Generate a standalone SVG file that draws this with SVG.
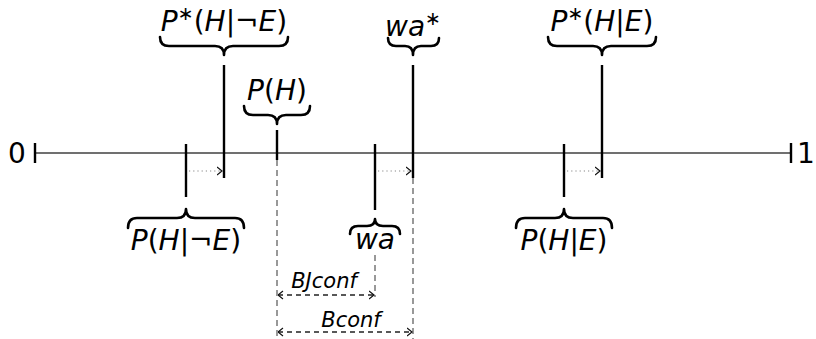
<svg xmlns="http://www.w3.org/2000/svg" width="816" height="339" viewBox="0 0 816 339">
<defs>
<style>
text{font-family:"DejaVu Sans","Liberation Sans",sans-serif;fill:#000}
.lbl{font-size:28px;text-anchor:middle}
.it{font-style:italic}
.sm{font-size:21px;text-anchor:middle;font-style:italic}
.num{font-size:28px;text-anchor:middle}
.tick{stroke:#000;stroke-width:2.4}
.brace{fill:none;stroke:#000;stroke-width:2.6;stroke-linecap:round;stroke-linejoin:round}
.axis{stroke:#707070;stroke-width:2.2}
.dash{stroke:#777;stroke-width:1.5;stroke-dasharray:6,4;fill:none}
.dashh{stroke:#222;stroke-width:1.3;stroke-dasharray:5,4;fill:none}
.dot{stroke:#888;stroke-width:1.2;stroke-dasharray:1.2,3;fill:none}
</style>
<marker id="ah" viewBox="0 0 6 10" refX="5.5" refY="5" markerWidth="6" markerHeight="10" markerUnits="userSpaceOnUse" orient="auto-start-reverse">
<path d="M0.5,1 L5.5,5 L0.5,9" fill="none" stroke="#111" stroke-width="1.2"/>
</marker>
</defs>

<g id="axis">
<line class="axis" x1="35" y1="153" x2="791" y2="153"/>
<line class="tick" x1="35" y1="143" x2="35" y2="163"/>
<line class="tick" x1="791" y1="143" x2="791" y2="163"/>
<text class="num" x="17" y="163">0</text>
<text class="num" x="806" y="163">1</text>
</g>

<g id="connectors">
<line class="dot" x1="189" y1="171" x2="222" y2="171" marker-end="url(#ah)"/>
<line class="dot" x1="378" y1="171" x2="411" y2="171" marker-end="url(#ah)"/>
<line class="dot" x1="567" y1="171" x2="600" y2="171" marker-end="url(#ah)"/>
<line class="dash" x1="277" y1="160" x2="277" y2="339"/>
<line class="dash" x1="413" y1="178" x2="413" y2="339"/>
<line class="dash" x1="375" y1="255" x2="375" y2="297"/>
<line class="dashh" x1="278" y1="295" x2="374" y2="295" marker-start="url(#ah)" marker-end="url(#ah)"/>
<line class="dashh" x1="278" y1="332" x2="412" y2="332" marker-start="url(#ah)" marker-end="url(#ah)"/>
</g>

<g id="P_H_notE">
<line class="tick" x1="186" y1="144" x2="186" y2="197"/>
<path class="brace" d="M128,228 Q128,218 137,218 L177,218 Q186,218 186,209 Q186,218 195,218 L235,218 Q244,218 244,228"/>
<text class="lbl" x="186" y="250"><tspan class="it">P</tspan>(<tspan class="it">H</tspan>|¬<tspan class="it">E</tspan>)</text>
</g>

<g id="Pstar_H_notE">
<line class="tick" x1="224" y1="65" x2="224" y2="178"/>
<path class="brace" d="M160,37 Q160,46 169,46 L215,46 Q224,46 224,55 Q224,46 233,46 L279,46 Q288,46 288,37"/>
<text class="lbl" x="224" y="31"><tspan class="it">P</tspan><tspan font-size="19" dy="-11">∗</tspan><tspan dy="11">(</tspan><tspan class="it">H</tspan>|¬<tspan class="it">E</tspan>)</text>
</g>

<g id="P_H">
<line class="tick" x1="277" y1="130" x2="277" y2="160"/>
<path class="brace" d="M244,106 Q244,115 253,115 L268,115 Q277,115 277,124 Q277,115 286,115 L301,115 Q310,115 310,106"/>
<text class="lbl" x="277" y="100"><tspan class="it">P</tspan>(<tspan class="it">H</tspan>)</text>
</g>

<g id="wa">
<line class="tick" x1="375" y1="144" x2="375" y2="210"/>
<path class="brace" d="M350,234 Q350,226 358,226 L367,226 Q375,226 375,219 Q375,226 383,226 L392,226 Q400,226 400,234"/>
<text class="lbl it" x="375" y="249">wa</text>
</g>

<g id="wa_star">
<line class="tick" x1="413" y1="65" x2="413" y2="178"/>
<path class="brace" d="M388,38 Q388,46 396,46 L405,46 Q413,46 413,55 Q413,46 421,46 L431,46 Q439,46 439,38"/>
<text class="lbl" x="413" y="36"><tspan class="it">wa</tspan><tspan font-size="19" dy="-11">∗</tspan></text>
</g>

<g id="P_H_E">
<line class="tick" x1="564" y1="144" x2="564" y2="197"/>
<path class="brace" d="M516,228 Q516,218 525,218 L555,218 Q564,218 564,209 Q564,218 573,218 L603,218 Q612,218 612,228"/>
<text class="lbl" x="564" y="250"><tspan class="it">P</tspan>(<tspan class="it">H</tspan>|<tspan class="it">E</tspan>)</text>
</g>

<g id="Pstar_H_E">
<line class="tick" x1="602" y1="65" x2="602" y2="178"/>
<path class="brace" d="M548,37 Q548,46 557,46 L593,46 Q602,46 602,55 Q602,46 611,46 L647,46 Q656,46 656,37"/>
<text class="lbl" x="602" y="31"><tspan class="it">P</tspan><tspan font-size="19" dy="-11">∗</tspan><tspan dy="11">(</tspan><tspan class="it">H</tspan>|<tspan class="it">E</tspan>)</text>
</g>

<g id="BJconf">
<text class="sm" x="324" y="288">BJconf</text>
</g>
<g id="Bconf">
<text class="sm" x="351" y="327">Bconf</text>
</g>
</svg>
